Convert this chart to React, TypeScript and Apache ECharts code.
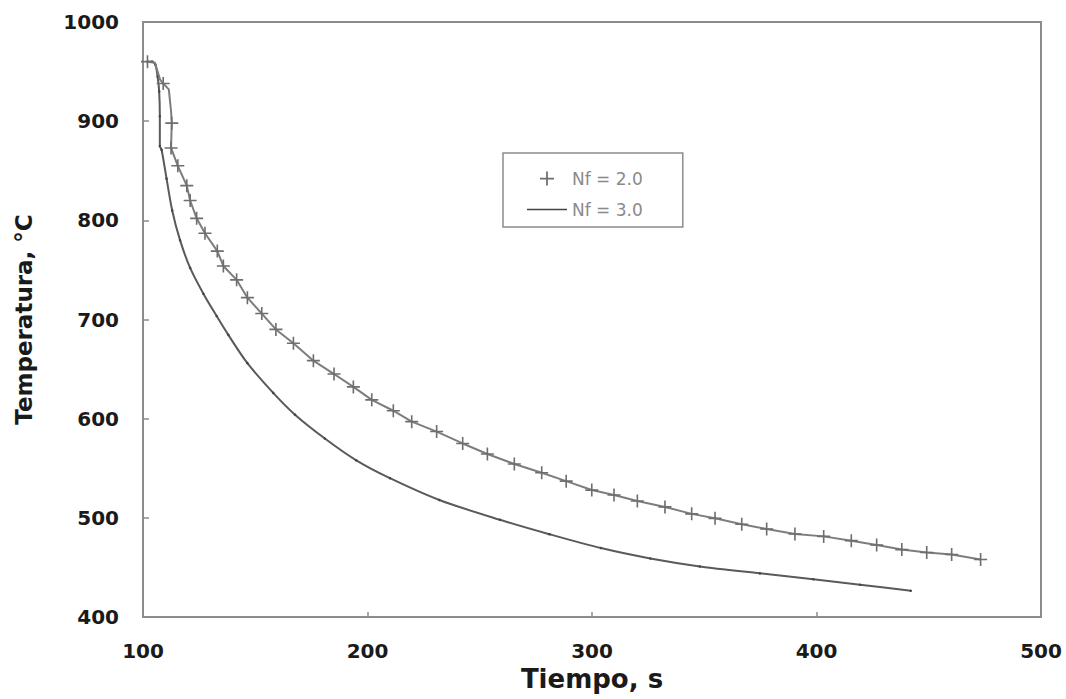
import React, { useEffect, useRef } from "react";
import * as echarts from "echarts";

// Nf = 2.0 (crosses)
const nf2Time = [102, 105.3, 107.6, 109, 111.5, 112.5, 112.8, 112.5, 115.5, 119.5, 121, 123.9, 127.6, 133.1, 135.8, 141.7, 146.5, 152.9, 159.2, 167, 175.9, 185.1, 193.7, 201.9, 211.5, 219.7, 230.8, 242.4, 253.4, 265.4, 277.6, 288.5, 299.9, 309.8, 320.2, 332.5, 344.4, 354.8, 366.7, 377.8, 390.4, 403.2, 415.5, 426.8, 438, 449.1, 460.2, 473.1];
const nf2Temp = [960, 959, 942, 938, 932, 910, 898, 873, 855, 835, 820, 802, 787, 769, 754, 740, 722, 706, 690, 676, 658.5, 645, 632, 619, 608, 597, 587, 575, 564.4, 554.3, 545.5, 537, 528, 523, 517, 511, 504, 499.5, 493.5, 488.8, 483.7, 481.3, 477, 472.6, 468, 465, 463, 458];
// indices of Nf = 2.0 points that carry no cross
const nf2NoMarker = [1, 2, 4, 5];

// Nf = 3.0 (line)
const nf3Time = [102, 104, 105.5, 106.5, 107.2, 107.5, 107.5, 108.3, 110.5, 113, 116.5, 121, 126.9, 132.8, 138, 146.5, 158, 167.7, 181, 195, 210, 232, 259, 281, 304, 326, 348, 374.8, 398.6, 419.4, 442];
const nf3Temp = [960, 960, 957, 945, 930, 905, 875, 871, 842, 810, 780, 752, 726, 703.5, 684.5, 656, 626, 604, 580, 558, 540, 518, 498, 483.5, 469.5, 459, 451, 444, 438, 432.5, 426.5];

const xMin = 100, xMax = 500, xStep = 100;
const yMin = 400, yMax = 1000, yStep = 100;

const seriesNames = ["Nf = 2.0", "Nf = 3.0"];

const PLUS = "path://M5.25,0 H6.75 V5.25 H12 V6.75 H6.75 V12 H5.25 V6.75 H0 V5.25 H5.25 Z";
const DASH = "path://M0,0 H40 V1.6 H0 Z";

export default function App() {
  const ref = useRef<HTMLDivElement>(null);

  useEffect(() => {
    if (!ref.current) return;
    const chart = echarts.init(ref.current, null, { renderer: "svg" });

    const nf2Data = nf2Time.map((t, i) =>
      nf2NoMarker.includes(i)
        ? { value: [t, nf2Temp[i]], symbol: "none" }
        : { value: [t, nf2Temp[i]] }
    );
    const nf3Data = nf3Time.map((t, i) => [t, nf3Temp[i]]);

    const tickFont = {
      fontFamily: "DejaVu Sans",
      fontWeight: "bold" as const,
      fontSize: 20,
      color: "#1a1a1a",
    };

    chart.setOption({
      animation: false,
      backgroundColor: "#ffffff",
      grid: {
        left: 143,
        top: 22,
        right: 25,
        bottom: 82,
        show: true,
        borderColor: "#8c8c8c",
        borderWidth: 2,
      },
      legend: {
        orient: "vertical",
        left: 503,
        top: 153,
        padding: [17, 40, 9, 24],
        itemGap: 14,
        itemWidth: 40,
        itemHeight: 14,
        itemTextGap: 6,
        borderColor: "#8c8c8c",
        borderWidth: 1.5,
        backgroundColor: "#ffffff",
        textStyle: { fontFamily: "DejaVu Sans", fontSize: 17, color: "#8a8a8a" },
        data: [
          { name: seriesNames[0], icon: PLUS },
          { name: seriesNames[1], icon: DASH },
        ],
      },
      xAxis: {
        type: "value",
        min: xMin,
        max: xMax,
        interval: xStep,
        name: "Tiempo, s",
        nameLocation: "middle",
        nameGap: 48,
        nameTextStyle: {
          fontFamily: "DejaVu Sans",
          fontWeight: "bold",
          fontSize: 26,
          color: "#1a1a1a",
        },
        axisLine: { lineStyle: { color: "#8c8c8c", width: 2 } },
        axisTick: { inside: true, length: 5, lineStyle: { color: "#8c8c8c", width: 1.5 } },
        axisLabel: { ...tickFont, margin: 24, formatter: (v: number) => String(v) },
        splitLine: { show: false },
      },
      yAxis: {
        type: "value",
        min: yMin,
        max: yMax,
        interval: yStep,
        name: "Temperatura, °C",
        nameLocation: "middle",
        nameGap: 108,
        nameTextStyle: {
          fontFamily: "DejaVu Sans",
          fontWeight: "bold",
          fontSize: 23,
          color: "#1a1a1a",
        },
        axisLine: { show: true, lineStyle: { color: "#8c8c8c", width: 2 } },
        axisTick: { show: true, inside: true, length: 6, lineStyle: { color: "#8c8c8c", width: 1.5 } },
        axisLabel: { ...tickFont, margin: 24, formatter: (v: number) => String(v) },
        splitLine: { show: false },
      },
      series: [
        {
          name: seriesNames[0],
          type: "line",
          data: nf2Data,
          symbol: PLUS,
          symbolSize: 13,
          showAllSymbol: true,
          itemStyle: { color: "#6e6e6e" },
          lineStyle: { color: "#7d7d7d", width: 2 },
          z: 3,
        },
        {
          name: seriesNames[1],
          type: "line",
          data: nf3Data,
          smooth: 0.3,
          symbol: "circle",
          symbolSize: 2.5,
          showAllSymbol: true,
          itemStyle: { color: "#444444" },
          lineStyle: { color: "#5a5a5a", width: 2 },
          z: 2,
        },
      ],
    });

    return () => chart.dispose();
  }, []);

  return (
    <div
      ref={ref}
      style={{ position: "fixed", left: 0, top: 0, width: 1066, height: 699, background: "#fff" }}
    />
  );
}
